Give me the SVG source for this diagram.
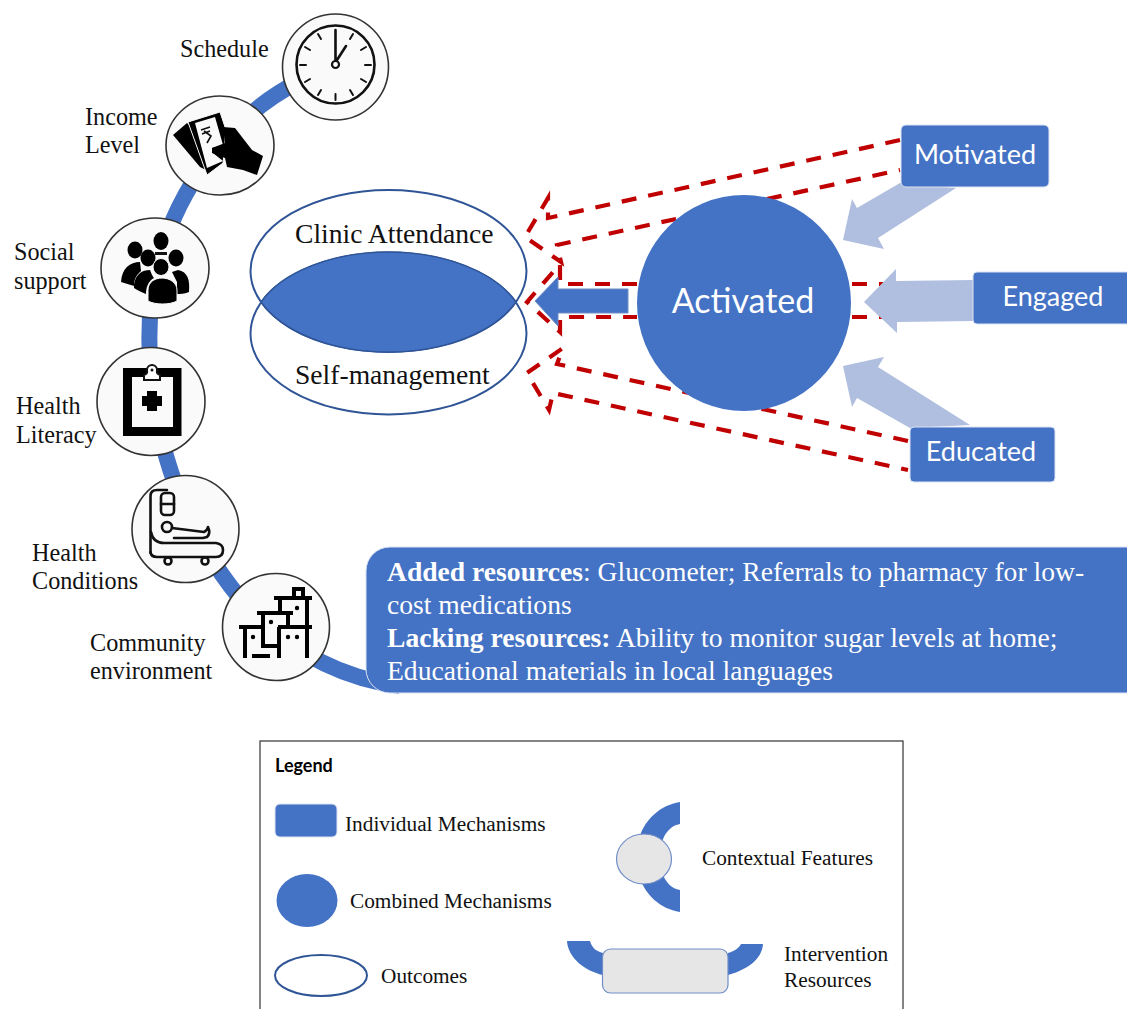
<svg xmlns="http://www.w3.org/2000/svg" width="1127" height="1009" viewBox="0 0 1127 1009">
<style>
.s{font-family:"Liberation Serif","Times New Roman",serif;fill:#111;font-size:24.2px}
.o{font-family:"Liberation Serif","Times New Roman",serif;fill:#111;font-size:27.6px}
.l{font-family:"Liberation Serif","Times New Roman",serif;fill:#111;font-size:21.3px}
.w{font-family:"Liberation Serif","Times New Roman",serif;fill:#fff;font-size:27.6px}
.c{font-family:Lato,"Open Sans",sans-serif;fill:#fff;font-size:27px}
.b{fill:#4472C4}
.n{fill:#4472C4;stroke:#DCE3F2;stroke-width:1}
.ic{fill:#FAFAFA;stroke:#333;stroke-width:1.6}
.ln{fill:none;stroke:#111;stroke-width:2.6;stroke-linecap:round;stroke-linejoin:round}
.bk{fill:#000}
.d{fill:none;stroke:#C00000;stroke-width:4.2;stroke-dasharray:15 12}
.la{fill:#B0BEDF}
.oc{fill:#fff;stroke:#2F5597;stroke-width:2}
.gr{fill:#E7E6E6;stroke:#6F8DC7;stroke-width:1.2}
</style>
<rect width="1127" height="1009" fill="#fff"/>

<g id="connectors">
<path d="M300,81 C232,115 170,190 152,290 C140,400 170,520 250,610 C290,650 340,678 400,686" fill="none" stroke="#4472C4" stroke-width="16"/>
<path class="d" d="M900,140 L548,218 L548,198 L525,237 L561,262 L557,245 L900,170"/>
<path class="d" d="M637,284 L560,284 L560,264 L527,302 L560,332 L560,317 L637,317"/>
<path class="d" d="M852,284 H884 M852,317 H884"/>
<path class="d" d="M908,441 L557,364 L563,348 L527,373 L549,410 L553,393 L908,470"/>
<polygon class="b" points="535,301 558,277 558,289 628,289 628,313 558,313 558,326" stroke="#6F8DC7" stroke-width="1"/>
<polygon class="la" points="843,240 852,199 857,208 900,183 956,188 878,238 884,249"/>
<polygon class="la" points="864,302 896,269 896,281 973,280 973,321 897,322 897,333"/>
<polygon class="la" points="843,366 884,357 878,367 970,425 910,428 857,398 852,407"/>
</g>

<g id="outcome-clinic"><ellipse class="oc" cx="388.500" cy="271" rx="138" ry="81"/><text class="o" x="295" y="243">Clinic Attendance</text></g>
<g id="outcome-self"><ellipse class="oc" cx="388.500" cy="333.500" rx="138" ry="81" style="fill:none"/><path class="b" d="M261,302 A138,81 0 0 1 516,302 A138,81 0 0 1 261,302 Z" stroke="#2F5597" stroke-width="1.500"/><text class="o" x="295" y="384">Self-management</text></g>

<g id="node-schedule">
<text class="s" x="180" y="57">Schedule</text>
<circle class="ic" cx="335.500" cy="67" r="53"/>
<circle cx="335.500" cy="64.500" r="39" fill="none" stroke="#111" stroke-width="2.600"/>
<path class="ln" style="stroke-width:2" d="M353,34 L350,39 M366,47 L361,50 M371,65 L365,65 M366,82 L361,79 M353,95 L350,90 M335.500,100 L335.500,94 M318,95 L321,90 M305,82 L310,79 M300,65 L306,65 M305,47 L310,50 M318,34 L321,39"/>
<path class="ln" d="M335.500,60 L335.500,30 M337,60 L346,46"/>
<circle cx="335.500" cy="64.500" r="3.500" fill="#fff" stroke="#111" stroke-width="2.200"/>
</g>

<g id="node-income">
<text class="s" x="85" y="125">Income</text><text class="s" x="85" y="153">Level</text>
<ellipse class="ic" cx="220" cy="145.500" rx="54" ry="49.500"/>
<polygon class="bk" points="173,135 187,123 192,128 206,170 200,167"/>
<polygon class="bk" points="188,122 220,112 225,127 225,143 223,163 207,175" stroke="#FAFAFA" stroke-width="1"/>
<polygon points="195,123 215,117 223,145 212,148 213,153 223,161 207,168" fill="#FAFAFA"/>
<polygon class="bk" points="223,127 235,128 252,150 263,156 257,175 243,170 227,167 225,158 212,153 212,148 225,143"/>
<path d="M201,130 L210,127 M202,134 L210,131 M204,131 L211,136 L207,143" fill="none" stroke="#111" stroke-width="1.600"/>
</g>

<g id="node-social">
<text class="s" x="14" y="260">Social</text><text class="s" x="14" y="289">support</text>
<ellipse class="ic" cx="155" cy="268" rx="54" ry="50"/>
<ellipse class="bk" cx="161" cy="241" rx="7.500" ry="9"/>
<ellipse class="bk" cx="135" cy="250" rx="7.500" ry="8.500"/>
<ellipse class="bk" cx="148" cy="258" rx="7.500" ry="8.500"/>
<ellipse class="bk" cx="176" cy="258" rx="7.500" ry="8.500"/>
<path class="bk" d="M121,282 C122,268 130,262 140,262 L141,271 C135,276 134,281 134,286 Z"/>
<path class="bk" d="M172,272 L178,270 C188,272 190,280 189,292 C184,294 180,294 177,294 L177,282 Z"/>
<path class="bk" d="M134,284 C136,274 142,270 150,270 C152,275 153,277 154,278 C148,281 146,288 146,294 C141,292 137,290 134,288 Z"/>
<rect x="155" y="252" width="12" height="3" fill="#111"/>
<ellipse class="bk" cx="161" cy="267" rx="8" ry="8.500" stroke="#FAFAFA" stroke-width="1"/>
<path class="bk" d="M148,301 L148,290 C148,282 155,278 162,278 C170,278 177,283 177,290 L177,301 C170,305 155,305 148,301 Z" stroke="#FAFAFA" stroke-width="1"/>
</g>

<g id="node-literacy">
<text class="s" x="16" y="414">Health</text><text class="s" x="16" y="443">Literacy</text>
<circle class="ic" cx="151" cy="401.500" r="54"/>
<path class="bk" fill-rule="evenodd" d="M123,368 H181.500 V436 H123 Z M132,377 V427 H173 V377 Z"/>
<path d="M144,380 V375 Q148,374 147,370 A5,5 0 0 1 157,370 Q156,374 160,375 V380 Z" fill="#fff" stroke="#111" stroke-width="2"/>
<circle cx="152" cy="370" r="1.500" fill="#111"/>
<path class="bk" d="M147,391 H157 V396 H162 V406 H157 V411 H147 V406 H142 V396 H147 Z"/>
</g>

<g id="node-conditions">
<text class="s" x="32" y="561">Health</text><text class="s" x="32" y="589">Conditions</text>
<circle class="ic" cx="185.500" cy="529" r="53.500"/>
<path class="ln" d="M150.500,553 V496 Q150.500,490 157,490 H167"/>
<rect x="161" y="493" width="13" height="22" rx="4" fill="none" stroke="#111" stroke-width="2.600"/>
<path class="ln" d="M161,504 H174"/>
<circle cx="167" cy="527" r="5" fill="none" stroke="#111" stroke-width="2.600"/>
<path class="ln" d="M172,528 L204,532 Q207,531 208,527 Q211,533 207,537 L203,538 H174"/>
<path class="ln" d="M151,532 Q153,543 164,543 H216 Q223,544 223,550 Q223,557 216,557 H157 Q151,557 150.500,552"/>
<circle cx="168" cy="561" r="3.500" fill="none" stroke="#111" stroke-width="2.600"/>
<circle cx="205" cy="561" r="3.500" fill="none" stroke="#111" stroke-width="2.600"/>
</g>

<g id="node-community">
<text class="s" x="90" y="651">Community</text><text class="s" x="90" y="679">environment</text>
<circle class="ic" cx="276" cy="627" r="53.500"/>
<path fill="none" stroke="#000" stroke-width="4" d="M294,597 V589 H303 V597 M274,598 H312 M280,598 V612 M307,598 V658 M257,613 H293 M263,613 V646 H279 M288,613 V627 M239,627 H265 M278,627 H312 M245,627 V658 M279,627 V658 M252,656 H270"/>
<circle cx="297" cy="608" r="2.200" class="bk"/><circle cx="271" cy="622" r="2.200" class="bk"/><circle cx="253" cy="637" r="2.200" class="bk"/><circle cx="288" cy="637" r="2.200" class="bk"/><circle cx="297" cy="637" r="2.200" class="bk"/>
</g>

<g id="node-resources">
<rect class="n" x="366" y="547" width="790" height="146" rx="24"/>
<text class="w" x="387" y="581"><tspan font-weight="bold">Added resources</tspan>: Glucometer; Referrals to pharmacy for low-</text>
<text class="w" x="387" y="614">cost medications</text>
<text class="w" x="387" y="647"><tspan font-weight="bold">Lacking resources:</tspan> Ability to monitor sugar levels at home;</text>
<text class="w" x="387" y="680">Educational materials in local languages</text>
</g>

<g id="node-activated"><ellipse class="b" cx="744" cy="303" rx="107" ry="108"/><text class="c" style="font-size:34px" x="743" y="313" text-anchor="middle">Activated</text></g>
<g id="node-motivated"><rect class="n" x="901" y="125" width="148" height="62" rx="5"/><text class="c" x="975" y="164" text-anchor="middle">Motivated</text></g>
<g id="node-engaged"><rect class="n" x="973" y="272" width="170" height="52" rx="4"/><text class="c" x="1053" y="306" text-anchor="middle">Engaged</text></g>
<g id="node-educated"><rect class="n" x="910" y="427" width="145" height="55" rx="4"/><text class="c" x="981" y="461" text-anchor="middle">Educated</text></g>

<g id="legend">
<rect x="260" y="741" width="643" height="290" fill="none" stroke="#333" stroke-width="1.200"/>
<text x="275" y="772" font-family="Lato,'Open Sans',sans-serif" font-weight="bold" font-size="18" fill="#000">Legend</text>
<rect class="n" x="275" y="804" width="62" height="33" rx="5"/>
<text class="l" x="345" y="831">Individual Mechanisms</text>
<ellipse class="b" cx="307" cy="900.500" rx="30.500" ry="26.500"/>
<text class="l" x="350" y="908">Combined Mechanisms</text>
<ellipse class="oc" cx="321" cy="975.500" rx="46" ry="20.500"/>
<text class="l" x="381" y="983">Outcomes</text>
<path class="b" d="M680,802 C660,805 645,820 640,836 L662,842 C665,832 672,825 680,824 Z"/>
<path class="b" d="M680,912 C660,909 645,894 640,878 L662,872 C665,882 672,889 680,890 Z"/>
<ellipse class="gr" cx="644" cy="859" rx="27.500" ry="25"/>
<text class="l" x="702" y="865">Contextual Features</text>
<path class="b" d="M567,941 H590 C592,948 596,951 603,953 V975 C585,971 568,958 567,941 Z"/>
<path class="b" d="M763,944 H741 C739,948 735,951 728,953 V975 C746,970 762,960 763,944 Z"/>
<rect class="gr" x="602.500" y="949" width="125.500" height="44" rx="8"/>
<text class="l" x="784" y="961">Intervention</text>
<text class="l" x="784" y="987">Resources</text>
</g>
</svg>
